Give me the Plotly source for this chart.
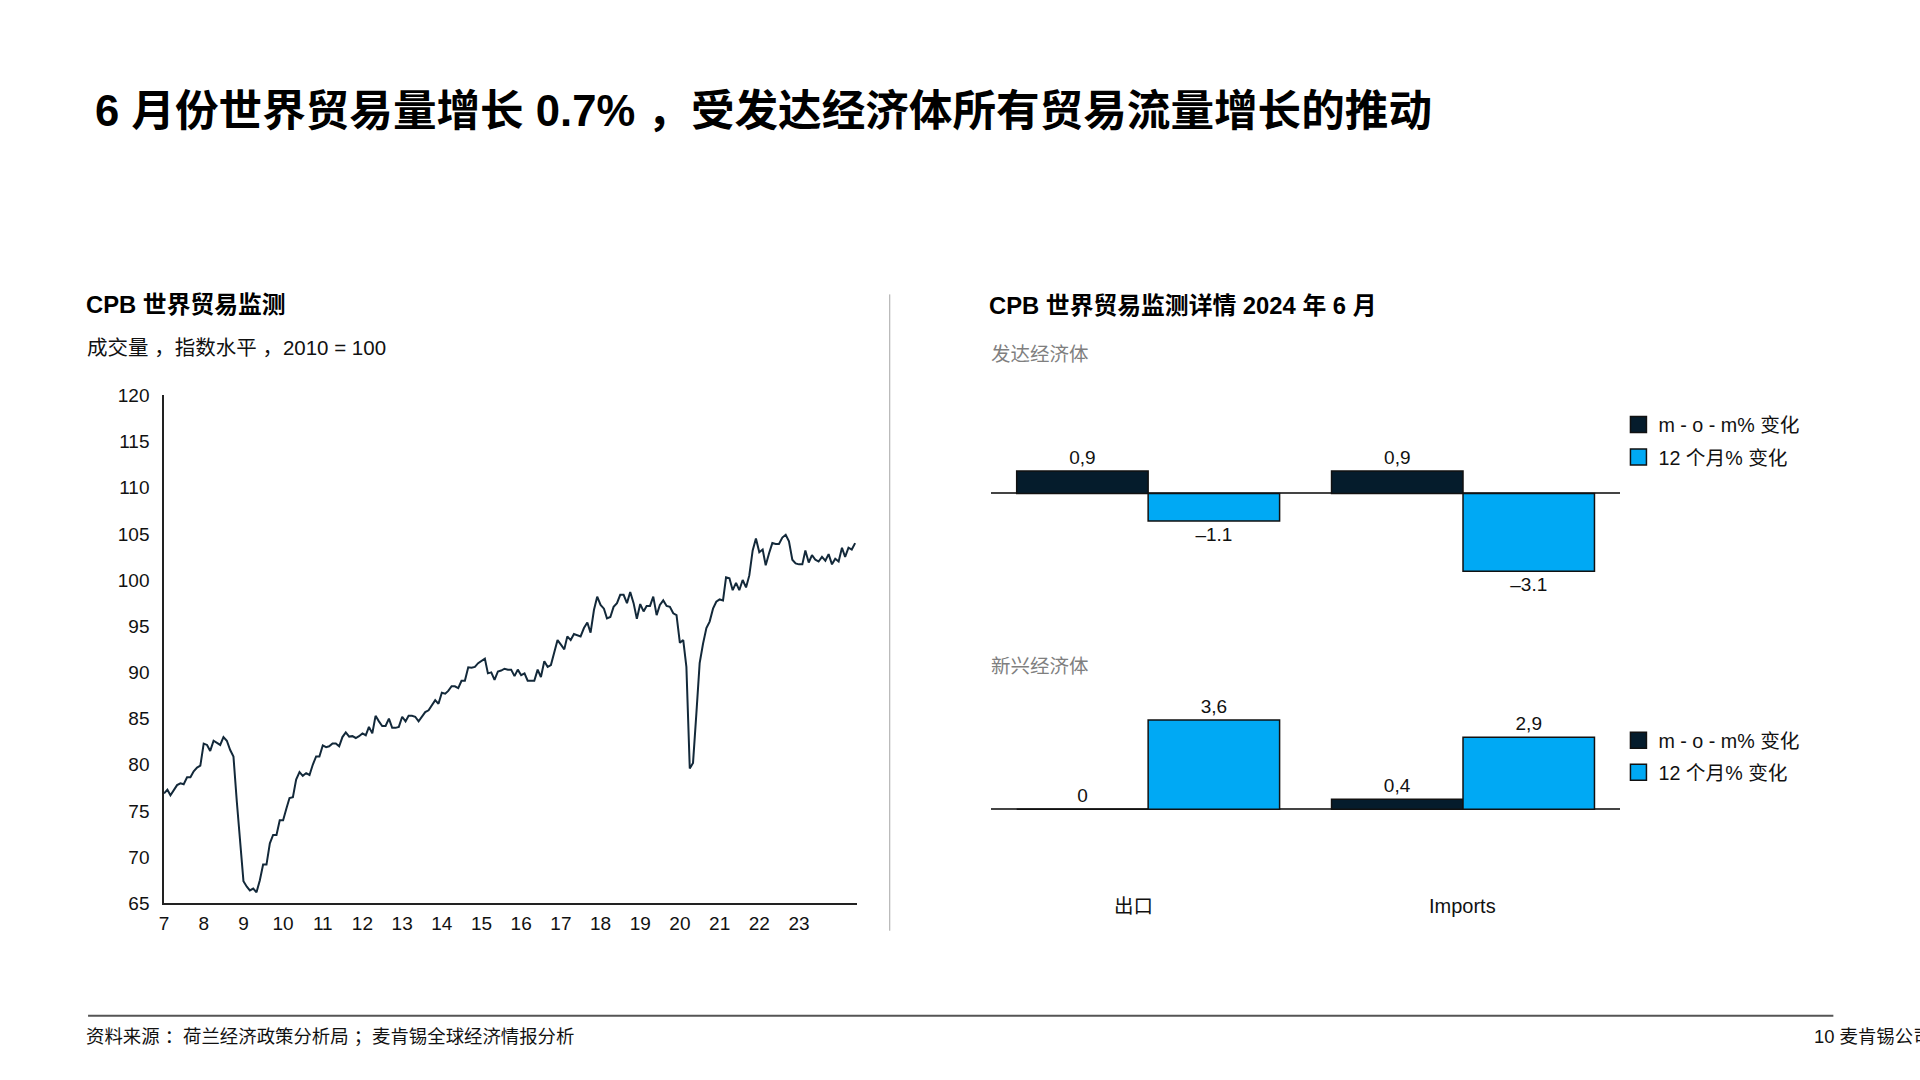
import pandas as pd
import plotly.graph_objects as go

# ---------------- data ----------------
# CPB world trade monitor, volume index (2010 = 100), monthly Jan 2007 - Jun 2024
idx_2007 = [76.9, 77.3, 76.7, 77.3, 77.8, 78.0, 77.9, 78.65, 78.65, 79.3, 79.7, 79.9]
idx_2008 = [82.3, 82.15, 81.5, 82.6, 82.4, 82.15, 83.0, 82.6, 81.6, 80.9, 76.0, 71.4]
idx_2009 = [67.4, 66.8, 66.4, 66.6, 66.2, 67.5, 69.2, 69.2, 71.5, 72.4, 72.4, 74.0]
idx_2010 = [74.0, 75.3, 76.4, 76.5, 78.4, 79.2, 78.8, 79.1, 78.9, 80.0, 80.9, 80.9]
idx_2011 = [82.1, 81.9, 82.0, 82.3, 82.3, 82.0, 83.0, 83.5, 83.05, 83.1, 82.9, 83.1]
idx_2012 = [83.4, 83.2, 84.1, 83.4, 85.3, 84.7, 84.2, 84.2, 85.0, 84.0, 84.0, 84.1]
idx_2013 = [85.2, 84.7, 85.3, 85.3, 85.2, 84.7, 85.2, 85.7, 85.9, 86.5, 87.0, 86.6]
idx_2014 = [87.8, 87.7, 88.0, 88.5, 88.5, 88.3, 89.1, 89.1, 90.55, 90.5, 90.6, 91.0]
idx_2015 = [91.3, 91.5, 89.9, 90.0, 89.2, 90.1, 90.2, 90.4, 90.3, 90.3, 89.6, 90.3]
idx_2016 = [89.7, 89.9, 89.1, 89.1, 89.1, 90.3, 89.5, 91.2, 90.6, 90.8, 92.1, 93.5]
idx_2017 = [93.0, 92.5, 93.9, 93.5, 94.15, 94.05, 93.9, 94.8, 95.4, 94.3, 96.75, 98.2]
idx_2018 = [97.3, 96.9, 95.85, 96.0, 97.1, 97.5, 98.4, 98.4, 97.5, 98.7, 97.5, 95.8]
idx_2019 = [97.4, 96.6, 97.2, 97.2, 98.2, 96.2, 97.3, 97.8, 97.2, 97.1, 96.4, 96.2]
idx_2020 = [93.2, 93.5, 90.6, 79.6, 80.2, 85.6, 91.0, 93.1, 94.8, 95.5, 96.9, 97.65]
idx_2021 = [97.9, 97.8, 100.3, 100.2, 98.9, 99.7, 98.9, 100.0, 99.2, 100.5, 103.2, 104.5]
idx_2022 = [103.0, 103.3, 101.6, 102.9, 104.0, 103.9, 103.9, 104.6, 104.9, 104.2, 102.2, 101.8]
idx_2023 = [101.7, 101.7, 103.2, 101.9, 102.7, 102.2, 102.0, 102.5, 102.1, 102.8, 101.7, 102.3]
idx_2024 = [102.0, 103.5, 102.5, 103.5, 103.3, 104.0]

year_ticks = list(range(2007, 2024))
year_labels = [str(y % 100) for y in year_ticks]
y_ticks = list(range(65, 121, 5))

# CPB world trade monitor details, June 2024
categories = ["出口", "Imports"]
adv_mom = [0.9, 0.9]
adv_yoy = [-1.1, -3.1]
adv_mom_labels = ["0,9", "0,9"]
adv_yoy_labels = ["–1.1", "–3.1"]
emg_mom = [0.0, 0.4]
emg_yoy = [3.6, 2.9]
emg_mom_labels = ["0", "0,4"]
emg_yoy_labels = ["3,6", "2,9"]

series_names = ["m - o - m% 变化", "12 个月% 变化"]

# ---------------- styling ----------------
W, H = 1920, 1080
DARK = "#051C2C"
CYAN = "#00A9F4"
LINE = "#13293A"
GRAY = "#7f7f7f"
FONT = "Liberation Sans, Arial, Noto Sans CJK SC, sans-serif"


# positions are given in target screen pixels; small calibration for the capture
def px(x):
    return ((x - 3.9) / 0.9978) / W


def py(y):
    return 1 - ((y - 9.3) / 0.9816) / H


values = (idx_2007 + idx_2008 + idx_2009 + idx_2010 + idx_2011 + idx_2012 + idx_2013
          + idx_2014 + idx_2015 + idx_2016 + idx_2017 + idx_2018 + idx_2019 + idx_2020
          + idx_2021 + idx_2022 + idx_2023 + idx_2024)
dates = pd.date_range("2007-01-01", periods=len(values), freq="MS")

fig = go.Figure()

fig.add_trace(go.Scatter(
    x=dates, y=values, mode="lines", line=dict(color=LINE, width=2),
    xaxis="x", yaxis="y", showlegend=False, hoverinfo="x+y"))

bar_line = dict(color="#111111", width=1.5)
txtfont = dict(size=19, color="#111111", family=FONT)

panels = [
    ("x2", "y2", "legend", adv_mom, adv_yoy, adv_mom_labels, adv_yoy_labels),
    ("x3", "y3", "legend2", emg_mom, emg_yoy, emg_mom_labels, emg_yoy_labels),
]
for xa, ya, lg, mom, yoy, mom_lbl, yoy_lbl in panels:
    for vals, lbls, color, name in ((mom, mom_lbl, DARK, series_names[0]),
                                    (yoy, yoy_lbl, CYAN, series_names[1])):
        grp = f"{lg}-{name}"
        fig.add_trace(go.Bar(x=categories, y=vals, xaxis=xa, yaxis=ya, name=name,
                             marker=dict(color=color, line=bar_line), text=lbls,
                             textposition="outside", textfont=txtfont, cliponaxis=False,
                             showlegend=False, legendgroup=grp))
        # legend key (larger square swatch than the default bar key)
        fig.add_trace(go.Scatter(x=[None], y=[None], xaxis=xa, yaxis=ya, name=name,
                                 mode="markers", legend=lg, legendgroup=grp,
                                 marker=dict(symbol="square", size=16, color=color,
                                             line=dict(color="#111111", width=1.5)),
                                 hoverinfo="skip"))

axis_common = dict(showgrid=False, zeroline=False, ticks="")

legend_common = dict(xanchor="left", yanchor="top", font=dict(size=19.7, color="#111111", family=FONT),
                     bgcolor="rgba(0,0,0,0)", itemclick=False, itemsizing="trace",
                     itemdoubleclick=False, traceorder="grouped")

fig.update_layout(
    width=W, height=H,
    margin=dict(l=0, r=0, t=0, b=0),
    paper_bgcolor="white", plot_bgcolor="white",
    font=dict(family=FONT, color="#111111"),
    barmode="group", bargap=0.165, bargroupgap=0,
    xaxis=dict(domain=[px(163), px(856)], range=["2007-01-01", "2024-06-16"],
               tickvals=[f"{y}-01-01" for y in year_ticks], ticktext=year_labels,
               showline=True, linecolor="#222222", linewidth=1.5,
               tickfont=dict(size=19, color="#111111"), ticklabelstandoff=2,
               anchor="y", **axis_common),
    yaxis=dict(domain=[py(903.6), py(395)], range=[65, 120], tickvals=y_ticks,
               showline=True, linecolor="#222222", linewidth=1.5,
               tickfont=dict(size=19, color="#111111"), ticklabelstandoff=9,
               anchor="x", **axis_common),
    xaxis2=dict(domain=[px(990), px(1620)], range=[-0.5, 1.5], type="category",
                categoryarray=categories, categoryorder="array",
                showticklabels=False, showline=False, anchor="y2", **axis_common),
    yaxis2=dict(domain=[py(600), py(440)], range=[-4.251, 2.124],
                showticklabels=False, showline=False, showgrid=False, ticks="",
                zeroline=True, zerolinecolor="#444444", zerolinewidth=1.5, anchor="x2"),
    xaxis3=dict(domain=[px(990), px(1620)], range=[-0.5, 1.5], type="category",
                categoryarray=categories, categoryorder="array",
                showticklabels=False, showline=False, anchor="y3", **axis_common),
    yaxis3=dict(domain=[py(830), py(690)], range=[-0.835, 4.810],
                showticklabels=False, showline=False, showgrid=False, ticks="",
                zeroline=True, zerolinecolor="#444444", zerolinewidth=1.5, anchor="x3"),
    legend=dict(x=px(1618), y=py(404.8), tracegroupgap=4, **legend_common),
    legend2=dict(x=px(1618), y=py(720.9), tracegroupgap=3.5, **legend_common),
    shapes=[
        dict(type="line", xref="paper", yref="paper", x0=px(889), x1=px(889),
             y0=py(294), y1=py(931), line=dict(color="#a6a6a6", width=1)),
        dict(type="line", xref="paper", yref="paper", x0=px(87), x1=px(1833),
             y0=py(1016), y1=py(1016), line=dict(color="#555555", width=2)),
    ],
)

ann = []


def text(x, y, s, size, color="#111111", bold=False, xanchor="left"):
    ann.append(dict(x=px(x), y=py(y), xref="paper", yref="paper", text=(f"<b>{s}</b>" if bold else s),
                    showarrow=False, xanchor=xanchor, yanchor="middle",
                    font=dict(size=size, color=color, family=FONT)))


text(92, 110, "6 月份世界贸易量增长 0.7% ，受发达经济体所有贸易流量增长的推动", 43.6, "#000000", bold=True)
text(83, 304, "CPB 世界贸易监测", 23.8, "#000000", bold=True)
text(84.4, 347.5, "成交量 ，指数水平 ，2010 = 100", 20.5, "#111111")
text(986, 305, "CPB 世界贸易监测详情 2024 年 6 月", 23.8, "#000000", bold=True)
text(988, 353.5, "发达经济体", 19.5, GRAY)
text(988, 666, "新兴经济体", 19.5, GRAY)
text(1133, 906, categories[0], 19.5, "#111111", xanchor="center")
text(1462, 906, categories[1], 20, "#111111", xanchor="center")
text(83.3, 1037, "资料来源 ：荷兰经济政策分析局 ；麦肯锡全球经济情报分析", 18.4, "#111111")
text(1811.6, 1037, "10 麦肯锡公司", 18.4, "#111111")

fig.update_layout(annotations=ann)

fig.write_html("out.html")
